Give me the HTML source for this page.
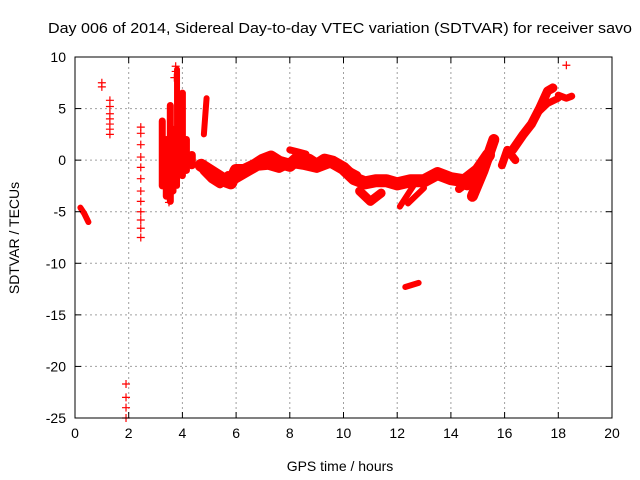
<!DOCTYPE html>
<html><head><meta charset="utf-8"><style>
body{margin:0;background:#fff;}
svg{display:block;font-family:"Liberation Sans",sans-serif;}
</style></head><body>
<svg id="chart" width="640" height="480" viewBox="0 0 640 480">
<text x="340" y="33" font-size="15" text-anchor="middle" textLength="584" lengthAdjust="spacingAndGlyphs">Day 006 of 2014, Sidereal Day-to-day VTEC variation (SDTVAR) for receiver savo</text>
<g id="grid"></g>
<g id="marks"></g>
<rect x="75" y="57" width="537" height="361" fill="none" stroke="#000" stroke-width="1"/>
<g id="ticks"></g>
<text x="340" y="471" font-size="14" text-anchor="middle">GPS time / hours</text>
<text transform="translate(19,238) rotate(-90)" font-size="14" text-anchor="middle">SDTVAR / TECUs</text>
</svg>
<script>
const xTicks=[0,2,4,6,8,10,12,14,16,18,20];
const yTicks=[10,5,0,-5,-10,-15,-20,-25];
// band traces (hours, TECU)
const bandX=[
[0.2,0.35,0.5],
[4.7,5.0,5.3,5.6,5.8,6.0,6.3,6.7,7.0,7.3,7.6,8.0,8.3,8.7,9.0,9.3,9.6,10.0,10.4,10.8,11.2,11.6,12.0,12.5,13.0,13.5,14.0,14.5,15.0,15.4],
[4.8,5.1,5.4,5.7,6.0,6.4,6.8,7.2,7.6,8.0,8.5,9.0,9.5,10.0,10.5],
[8.0,8.3,8.6],
[10.6,11.0,11.4],
[12.1,12.6],[12.4,13.0],
[12.3,12.8],
[14.8,15.2,15.6],
[14.6,15.0,15.3],
[14.3,14.8,15.2],
[15.9,16.1,16.4],
[16.3,16.7,17.0,17.3,17.6,17.8],
[17.2,17.6,18.0],
[18.0,18.3,18.5],
[3.25,3.25],[3.4,3.4],[3.55,3.55],[3.65,3.65],[3.8,3.8],[4.0,4.0],[4.15,4.15],[4.35,4.35],[4.8,4.9]
];
const bandY=[
[-4.6,-5.2,-6],
[-0.5,-1,-1.5,-2,-2.2,-1,-1,-0.5,0,0.3,-0.2,-0.5,0.2,0,-0.5,0,-0.2,-0.8,-1.8,-2.2,-2,-2,-2.3,-2,-2,-1.3,-1.8,-2,-1,0.5],
[-1,-1.8,-2.3,-1.5,-1.8,-1.2,-0.6,-0.5,-0.8,-0.3,-0.5,-0.8,-0.3,-0.8,-1.5],
[1,0.8,0.6],
[-3,-4,-3.2],
[-4.5,-2.5],[-4.2,-2.7],
[-12.3,-11.9],
[-3.5,-1,2],
[-2.5,-1.5,-0.5],
[-2.8,-1.8,-0.5],
[-0.5,1,0],
[1,2.5,3.5,5,6.7,7],
[4.5,5.5,6],
[6.3,6,6.2],
[3.8,-2.5],[2,-3.5],[5.3,-4],[3,-3],[8.8,-2.5],[6.5,-1.5],[2,-1],[0.5,-0.5],[2.5,6]
];
const bandW=[6,13,9,7,9,6,6,6,11,9,8,8,9,7,7,7,7,7,7,6,7,7,8,6];
// sparse scatter points
const ptX=[1.0,1.0,1.3,1.3,1.3,1.3,1.3,1.3,1.3,2.45,2.45,2.45,2.45,2.45,2.45,2.45,2.45,2.45,2.45,2.45,2.45,1.9,1.9,1.9,1.9,3.75,3.75,3.7,3.5,3.5,18.3];
const ptY=[7.5,7.1,5.8,5.2,4.5,4.0,3.5,3.0,2.5,3.2,2.6,1.5,0.3,-0.7,-1.8,-3,-4,-5,-5.8,-6.6,-7.5,-21.7,-23,-24,-25,9.1,8.6,8.0,-3.5,-4.1,9.2];
const X0=75,X1=612,Y0=418,Y1=57;
const sx=v=>X0+(v-0)/(20-0)*(X1-X0);
const sy=v=>Y0-(v+25)/(35)*(Y0-Y1);
const NS="http://www.w3.org/2000/svg";
const grid=document.getElementById('grid'),ticks=document.getElementById('ticks'),marks=document.getElementById('marks');
function mk(t,a,p){const e=document.createElementNS(NS,t);for(const k in a)e.setAttribute(k,a[k]);p.appendChild(e);return e;}
xTicks.forEach(v=>{const x=sx(v);
 if(v>0&&v<20){const g=mk('line',{x1:x,x2:x,y1:Y1,y2:Y0,stroke:'#a0a0a0','stroke-dasharray':'2,3'},grid);
 
 }
 mk('line',{x1:x,x2:x,y1:Y0,y2:Y0-6,stroke:'#000'},ticks);mk('line',{x1:x,x2:x,y1:Y1,y2:Y1+6,stroke:'#000'},ticks);
 const t=mk('text',{x:x,y:Y0+20,'font-size':14,'text-anchor':'middle'},ticks);t.textContent=v;
 
 });
yTicks.forEach(v=>{const y=sy(v);
 if(v<10&&v>-25){const g=mk('line',{x1:X0,x2:X1,y1:y,y2:y,stroke:'#a0a0a0','stroke-dasharray':'2,3'},grid);
 
 }
 mk('line',{x1:X0,x2:X0+6,y1:y,y2:y,stroke:'#000'},ticks);mk('line',{x1:X1,x2:X1-6,y1:y,y2:y,stroke:'#000'},ticks);
 const t=mk('text',{x:X0-9,y:y+5,'font-size':14,'text-anchor':'end'},ticks);t.textContent=v;
 
 });
bandX.forEach((xs,i)=>{const pts=xs.map((x,j)=>sx(x)+','+sy(bandY[i][j])).join(' ');
 const p=mk('polyline',{points:pts,fill:'none',stroke:'#ff0000','stroke-width':bandW[i]||7,'stroke-linejoin':'round','stroke-linecap':'round'},marks);
 
 });
ptX.forEach((x,i)=>{const cx=sx(x),cy=sy(ptY[i]);
 const p=mk('path',{d:`M${cx-4},${cy}H${cx+4}M${cx},${cy-4}V${cy+4}`,stroke:'#ff0000','stroke-width':1.2},marks);
 
 });
</script>
</body></html>
